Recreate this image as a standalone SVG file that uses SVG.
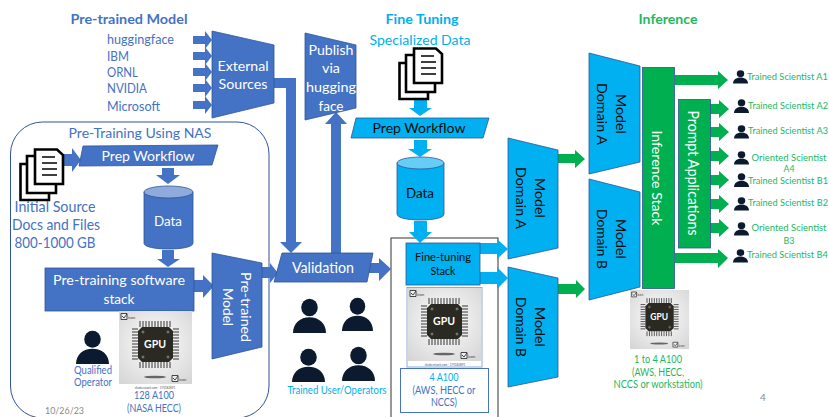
<svg xmlns="http://www.w3.org/2000/svg" width="829" height="417" viewBox="0 0 829 417">
<style>
text{font-family:"Lato","Liberation Sans",sans-serif}
.m{text-anchor:middle}
.b{fill:#4472C4;stroke:#2F5597;stroke-width:.8}
.c{fill:#00B0F0;stroke:#2F5597;stroke-width:.8}
.g{fill:#00B050;stroke:#2F5597;stroke-width:.8}
.ab{fill:#4472C4}.ac{fill:#00B0F0}.ag{fill:#00B050}
.tb{fill:#4472C4}.tc{fill:#00B0F0}.tg{fill:#1DB85F}.tw{fill:#fff}.tk{fill:#0a0a0a}
.h{font-size:14px;font-weight:700}
.s{font-size:10.5px}
.n{font-size:14px}
.sc{font-size:9.5px;fill:#1DB85F}
.pg{fill:#fff;stroke:#000;stroke-width:2.6}
.ln{stroke:#000;stroke-width:1.7}
.i{font-size:4px;fill:#444}
.pin{stroke:#222;stroke-width:.9}
</style>
<defs>
<radialGradient id="gb" cx="50%" cy="45%" r="70%"><stop offset="0" stop-color="#fff"/><stop offset="1" stop-color="#d6d6d6"/></radialGradient>
<g id="person"><circle cx="50" cy="27" r="25" fill="#0B1A2E"/><path d="M0 100C0 72 22 55 50 55S100 72 100 100Z" fill="#0B1A2E"/></g>
<g id="docs">
<path class="pg" d="M1.500 16H30V52H1.500Z"/><path class="pg" d="M8 8H37V45H8Z"/><path class="pg" d="M16 1.500H38L44 7V36H16Z"/>
<path class="ln" d="M23 9H36M23 15H38M23 21H38M23 27H38" fill="none"/>
</g>
<g id="gpuart">
<rect width="73" height="73" fill="url(#gb)"/>
<ellipse cx="36" cy="66" rx="11" ry="1.3" fill="#666"/>
<path class="pin" d="M21 10v6M24 10v6M27 10v6M30 10v6M33 10v6M36 10v6M39 10v6M42 10v6M45 10v6M48 10v6M51 10v6"/>
<path class="pin" d="M21 51v6M24 51v6M27 51v6M30 51v6M33 51v6M36 51v6M39 51v6M42 51v6M45 51v6M48 51v6M51 51v6"/>
<path class="pin" d="M13 18h6M13 21h6M13 24h6M13 27h6M13 30h6M13 33h6M13 36h6M13 39h6M13 42h6M13 45h6M13 48h6"/>
<path class="pin" d="M54 18h6M54 21h6M54 24h6M54 27h6M54 30h6M54 33h6M54 36h6M54 39h6M54 42h6M54 45h6M54 48h6"/>
<path d="M23 16H50L54 20V47L50 51H23L19 47V20Z" fill="#2A2A22"/>
<g fill="none" stroke="#bbb" stroke-width=".6"><circle cx="24" cy="21" r="1"/><circle cx="49" cy="21" r="1"/><circle cx="24" cy="46" r="1"/><circle cx="49" cy="46" r="1"/></g>
<path d="M2 2.500h6v6H2ZM53 64.500h6v6h-6Z" fill="#eee" stroke="#333" stroke-width=".9"/>
<path d="M3 5l2 2 3-4M54 67l2 2 3-4" fill="none" stroke="#333" stroke-width=".9"/>
</g>
</defs>
<rect width="829" height="417" fill="#fff"/>

<g id="region-nas"><rect x="10.500" y="122" width="258.500" height="296" rx="32" fill="none" stroke="#2F5597" stroke-width="1"/></g>
<g id="region-finetune"><rect x="391" y="238" width="107" height="200" fill="none" stroke="#333" stroke-width="1"/></g>

<g id="connectors">
<polygon class="ab" points="193,36 205,36 205,31 212,40 205,49 205,44 193,44"/>
<polygon class="ab" points="193,52 205,52 205,47 212,56 205,65 205,60 193,60"/>
<polygon class="ab" points="193,68 205,68 205,63 212,72 205,81 205,76 193,76"/>
<polygon class="ab" points="193,84 205,84 205,79 212,88 205,97 205,92 193,92"/>
<polygon class="ab" points="193,101 205,101 205,96 212,105 205,114 205,109 193,109"/>
<polygon class="ab" points="63,154 72,154 72,148 81,160 72,172 72,166 63,166"/>
<polygon class="ab" points="162,168 174,168 174,175 180,175 168,184 156,175 162,175"/>
<polygon class="ab" points="162,250 174,250 174,259 180,259 168,267 157,259 162,259"/>
<polygon class="ab" points="191,280 203,280 203,275 214,286 203,298 203,292 191,292"/>
<polygon class="ab" points="262,267 270,267 270,263 278,273 270,283 270,278 262,278"/>
<polygon class="ab" points="274,78 296,78 296,242 302,242 291,253 280,242 286,242 286,88 274,88"/>
<polygon class="ab" points="331,253 331,124 325,124 336,112 347,124 341,124 341,253"/>
<polygon class="ab" points="367,263 379,263 379,258 391,269 379,281 379,273 367,273"/>
<polygon class="ac" points="414,99 427,99 427,108 432,108 420,116 409,108 414,108"/>
<polygon class="ac" points="414,140 427,140 427,149 432,149 420,157 408,149 414,149"/>
<polygon class="ac" points="414,221 427,221 427,232 432,232 420,243 409,232 414,232"/>
<polygon class="ac" points="480,243 497,243 497,239 508,249 497,259 497,254 480,254"/>
<polygon class="ac" points="480,272 497,272 497,267 508,278 497,289 497,284 480,284"/>
<polygon class="ag" points="558,154 575,154 575,150 585,159 575,168 575,163 558,163"/>
<polygon class="ag" points="558,284 576,284 576,280 585,289 576,298 576,294 558,294"/>
<polygon class="ag" points="675,75 718,75 718,71 728,80 718,89 718,85 675,85"/>
<polygon class="ag" points="675,253 718,253 718,249 728,258 718,268 718,263 675,263"/>
<polygon class="ag" points="710,104 719,104 719,100 729,109 719,118 719,114 710,114"/>
<polygon class="ag" points="710,127 719,127 719,123 729,132 719,141 719,137 710,137"/>
<polygon class="ag" points="710,151 719,151 719,147 729,156 719,165 719,161 710,161"/>
<polygon class="ag" points="710,175 719,175 719,171 729,180 719,189 719,185 710,185"/>
<polygon class="ag" points="710,199 719,199 719,195 729,204 719,213 719,209 710,209"/>
<polygon class="ag" points="710,223 719,223 719,219 729,228 719,237 719,233 710,233"/>
</g>

<g id="titles">
<text class="h m tb" x="129" y="24" textLength="117" lengthAdjust="spacingAndGlyphs">Pre-trained Model</text>
<text class="h m tc" x="422" y="24" textLength="73" lengthAdjust="spacingAndGlyphs">Fine Tuning</text>
<text class="n m tc" x="420" y="45" textLength="101" lengthAdjust="spacingAndGlyphs">Specialized Data</text>
<text class="h m tg" x="668" y="24" textLength="59" lengthAdjust="spacingAndGlyphs">Inference</text>
<text class="n m tb" x="140" y="138" textLength="143" lengthAdjust="spacingAndGlyphs">Pre-Training Using NAS</text>
</g>

<g id="sources" class="tb" font-size="13">
<text x="107" y="44" textLength="67" lengthAdjust="spacingAndGlyphs">huggingface</text>
<text x="107" y="61" textLength="22" lengthAdjust="spacingAndGlyphs">IBM</text>
<text x="107" y="77" textLength="31" lengthAdjust="spacingAndGlyphs">ORNL</text>
<text x="107" y="93" textLength="40" lengthAdjust="spacingAndGlyphs">NVIDIA</text>
<text x="107" y="111" textLength="53" lengthAdjust="spacingAndGlyphs">Microsoft</text>
</g>

<g id="external-sources"><polygon class="b" points="212,31 274,45 274,103 212,118"/>
<text class="n m tw" x="243" y="71" textLength="51" lengthAdjust="spacingAndGlyphs">External</text><text class="n m tw" x="243" y="89" textLength="49" lengthAdjust="spacingAndGlyphs">Sources</text></g>

<g id="publish"><polygon class="b" points="305,33 356,45 356,108 305,120"/>
<text class="n m tw" x="331" y="55" textLength="45" lengthAdjust="spacingAndGlyphs">Publish</text><text class="n m tw" x="331" y="73" textLength="18" lengthAdjust="spacingAndGlyphs">via</text><text class="n m tw" x="331" y="92" textLength="50" lengthAdjust="spacingAndGlyphs">hugging</text><text class="n m tw" x="331" y="111" textLength="25" lengthAdjust="spacingAndGlyphs">face</text></g>

<g id="initial-docs"><use href="#docs" transform="translate(19,148)"/>
<text class="m tb" font-size="15" x="55" y="212" textLength="81" lengthAdjust="spacingAndGlyphs">Initial Source</text>
<text class="m tb" font-size="15" x="56" y="230" textLength="88" lengthAdjust="spacingAndGlyphs">Docs and Files</text>
<text class="m tb" font-size="15" x="55" y="248" textLength="81" lengthAdjust="spacingAndGlyphs">800-1000 GB</text></g>

<g id="prep-workflow"><polygon class="b" points="83,146 218,145 212,165 79,166"/>
<text class="n m tw" x="148" y="161" textLength="93" lengthAdjust="spacingAndGlyphs">Prep Workflow</text></g>

<g id="data"><path class="b" d="M144 192V243C144 247 155 249 168.500 249S193 247 193 243V192Z"/><ellipse cx="168.500" cy="192" rx="24.500" ry="6" fill="#8FAADC" stroke="#2F5597" stroke-width=".8"/>
<text class="n m tw" x="168" y="226" textLength="28" lengthAdjust="spacingAndGlyphs">Data</text></g>

<g id="pretrain-stack"><rect class="b" x="45" y="268" width="149" height="43"/>
<text class="n m tw" x="119" y="285" textLength="132" lengthAdjust="spacingAndGlyphs">Pre-training software</text><text class="n m tw" x="119" y="304" textLength="31" lengthAdjust="spacingAndGlyphs">stack</text></g>

<g id="pretrained-model"><polygon class="b" points="212,253 262,263 262,347 212,359"/>
<text class="n m tw" transform="translate(241,307) rotate(90)" textLength="70" lengthAdjust="spacingAndGlyphs">Pre-trained</text>
<text class="n m tw" transform="translate(223,307) rotate(90)" textLength="38" lengthAdjust="spacingAndGlyphs">Model</text></g>

<g id="operator"><use href="#person" transform="translate(76,330) scale(.33,.34)"/>
<text class="s m tb" x="93" y="374" textLength="38" lengthAdjust="spacingAndGlyphs">Qualified</text><text class="s m tb" x="93" y="386" textLength="38" lengthAdjust="spacingAndGlyphs">Operator</text></g>

<g id="gpu-128"><g transform="translate(119,311)"><use href="#gpuart"/>
<text class="m" x="36" y="37" font-size="11" font-weight="700" fill="#fff" textLength="22" lengthAdjust="spacingAndGlyphs">GPU</text>
<text class="i" x="9" y="8">icon</text><text class="i" x="60" y="70">icon</text></g>
<text class="m" x="155" y="389" font-size="3" fill="#555">shutterstock.com · 375182891</text>
<text class="s m tb" x="154" y="399" textLength="40" lengthAdjust="spacingAndGlyphs">128 A100</text><text class="s m tb" x="154" y="412" textLength="54" lengthAdjust="spacingAndGlyphs">(NASA HECC)</text></g>

<text id="date" x="45" y="414" font-size="10" fill="#898989" textLength="39" lengthAdjust="spacingAndGlyphs">10/26/23</text>

<g id="validation"><polygon class="b" points="282,253 373,253 367,282 274,282"/>
<text class="m tw" font-size="15" x="323" y="273" textLength="62" lengthAdjust="spacingAndGlyphs">Validation</text></g>

<g id="users"><use href="#person" transform="translate(293,298) scale(.33,.35)"/><use href="#person" transform="translate(342,297) scale(.31,.34)"/><use href="#person" transform="translate(292,348) scale(.33,.34)"/><use href="#person" transform="translate(342,346) scale(.33,.35)"/>
<text class="s m tc" x="337" y="394" textLength="99" lengthAdjust="spacingAndGlyphs">Trained User/Operators</text></g>

<g id="fine-docs"><use href="#docs" transform="translate(398,47)"/></g>

<g id="fine-prep"><polygon class="c" points="356,118 489,118 483,138 351,138"/>
<text class="n m tk" x="419" y="133" textLength="93" lengthAdjust="spacingAndGlyphs">Prep Workflow</text></g>

<g id="fine-data"><path class="c" d="M397 163V214C397 218 408 220 420.500 220S444 218 444 214V163Z"/><ellipse cx="420.500" cy="163" rx="23.500" ry="6" fill="#66CDF5" stroke="#2F5597" stroke-width=".8"/>
<text class="n m tk" x="420" y="198" textLength="28" lengthAdjust="spacingAndGlyphs">Data</text></g>

<g id="fine-tuning-stack"><rect class="c" x="406" y="243" width="74" height="42"/>
<text class="m tk" font-size="11.500" x="443" y="261" textLength="56" lengthAdjust="spacingAndGlyphs">Fine-tuning</text><text class="m tk" font-size="11.500" x="443" y="275" textLength="25" lengthAdjust="spacingAndGlyphs">Stack</text></g>

<g id="gpu-4"><rect x="407" y="287.500" width="75" height="79.500" fill="#fff" stroke="#8FAADC" stroke-width="1"/>
<g transform="translate(408,288)"><use href="#gpuart"/>
<text class="m" x="36" y="37" font-size="11" font-weight="700" fill="#fff" textLength="22" lengthAdjust="spacingAndGlyphs">GPU</text>
<text class="i" x="9" y="8">icon</text><text class="i" x="60" y="70">icon</text></g>
<text class="m" x="445" y="365.500" font-size="3" fill="#555">shutterstock.com · 375182891</text></g>

<g id="a100-4"><rect x="400.500" y="368.500" width="88" height="44" fill="#fff" stroke="#4472C4" stroke-width="1"/>
<text class="s m tc" x="444" y="381" textLength="29" lengthAdjust="spacingAndGlyphs">4 A100</text><text class="s m tb" x="444" y="394" textLength="63" lengthAdjust="spacingAndGlyphs">(AWS, HECC  or</text><text class="s m tb" x="444" y="406" textLength="26" lengthAdjust="spacingAndGlyphs">NCCS)</text></g>

<g id="ft-model-a"><polygon class="c" points="508,138 558,150 558,248 508,259"/>
<text class="n m tk" transform="translate(535,198) rotate(90)" textLength="40" lengthAdjust="spacingAndGlyphs">Model</text><text class="n m tk" transform="translate(516,198) rotate(90)" textLength="62" lengthAdjust="spacingAndGlyphs">Domain A</text></g>

<g id="ft-model-b"><polygon class="c" points="508,267 558,278 558,377 508,387"/>
<text class="n m tk" transform="translate(535,327) rotate(90)" textLength="40" lengthAdjust="spacingAndGlyphs">Model</text><text class="n m tk" transform="translate(516,327) rotate(90)" textLength="60" lengthAdjust="spacingAndGlyphs">Domain B</text></g>

<g id="inf-model-a"><polygon class="c" points="589,53 640,66 640,162 589,174"/>
<text class="n m tk" transform="translate(616,114) rotate(90)" textLength="40" lengthAdjust="spacingAndGlyphs">Model</text><text class="n m tk" transform="translate(597,114) rotate(90)" textLength="62" lengthAdjust="spacingAndGlyphs">Domain A</text></g>

<g id="inf-model-b"><polygon class="c" points="589,179 640,192 640,287 589,300"/>
<text class="n m tk" transform="translate(616,239) rotate(90)" textLength="40" lengthAdjust="spacingAndGlyphs">Model</text><text class="n m tk" transform="translate(597,239) rotate(90)" textLength="60" lengthAdjust="spacingAndGlyphs">Domain B</text></g>

<g id="inference-stack"><rect class="g" x="642.500" y="67.500" width="32" height="221"/>
<text class="n m tw" transform="translate(652,178) rotate(90)" textLength="95" lengthAdjust="spacingAndGlyphs">Inference Stack</text></g>

<g id="prompt-apps"><rect class="g" x="678.500" y="99.500" width="32" height="148.500"/>
<text class="m tw" font-size="15" transform="translate(688,173) rotate(90)" textLength="125" lengthAdjust="spacingAndGlyphs">Prompt Applications</text></g>

<g id="gpu-inference"><g transform="translate(630,290) scale(.81)"><use href="#gpuart"/>
<text class="m" x="36" y="37" font-size="11" font-weight="700" fill="#fff" textLength="22" lengthAdjust="spacingAndGlyphs">GPU</text>
<text class="i" x="9" y="8">icon</text><text class="i" x="60" y="70">icon</text></g>
<text class="s m tg" x="658" y="363" textLength="48" lengthAdjust="spacingAndGlyphs">1 to 4 A100</text><text class="s m tg" x="658" y="376" textLength="52" lengthAdjust="spacingAndGlyphs">(AWS, HECC,</text><text class="s m tg" x="658" y="388" textLength="89" lengthAdjust="spacingAndGlyphs">NCCS or workstation)</text></g>

<g id="sci-a1"><use href="#person" transform="translate(733,70) scale(.15,.135)"/><text class="sc" x="747" y="80" textLength="81" lengthAdjust="spacingAndGlyphs">Trained Scientist A1</text></g>
<g id="sci-a2"><use href="#person" transform="translate(734,99) scale(.15,.14)"/><text class="sc" x="748" y="109" textLength="80" lengthAdjust="spacingAndGlyphs">Trained Scientist A2</text></g>
<g id="sci-a3"><use href="#person" transform="translate(734,125) scale(.15,.135)"/><text class="sc" x="748" y="134" textLength="80" lengthAdjust="spacingAndGlyphs">Trained Scientist A3</text></g>
<g id="sci-a4"><use href="#person" transform="translate(734,151) scale(.15,.135)"/><text class="sc m" x="789" y="161" textLength="75" lengthAdjust="spacingAndGlyphs">Oriented Scientist</text><text class="sc m" x="789" y="172" textLength="11" lengthAdjust="spacingAndGlyphs">A4</text></g>
<g id="sci-b1"><use href="#person" transform="translate(734,173) scale(.15,.14)"/><text class="sc" x="748" y="183.500" textLength="80" lengthAdjust="spacingAndGlyphs">Trained Scientist B1</text></g>
<g id="sci-b2"><use href="#person" transform="translate(734,197) scale(.15,.135)"/><text class="sc" x="748" y="206" textLength="80" lengthAdjust="spacingAndGlyphs">Trained Scientist B2</text></g>
<g id="sci-b3"><use href="#person" transform="translate(734,222) scale(.15,.135)"/><text class="sc m" x="789" y="231" textLength="75" lengthAdjust="spacingAndGlyphs">Oriented Scientist</text><text class="sc m" x="789" y="244" textLength="11" lengthAdjust="spacingAndGlyphs">B3</text></g>
<g id="sci-b4"><use href="#person" transform="translate(733,249) scale(.15,.135)"/><text class="sc" x="747" y="258" textLength="81" lengthAdjust="spacingAndGlyphs">Trained Scientist B4</text></g>

<text id="page" x="763" y="401" class="m" font-size="10" fill="#898989">4</text>
</svg>
